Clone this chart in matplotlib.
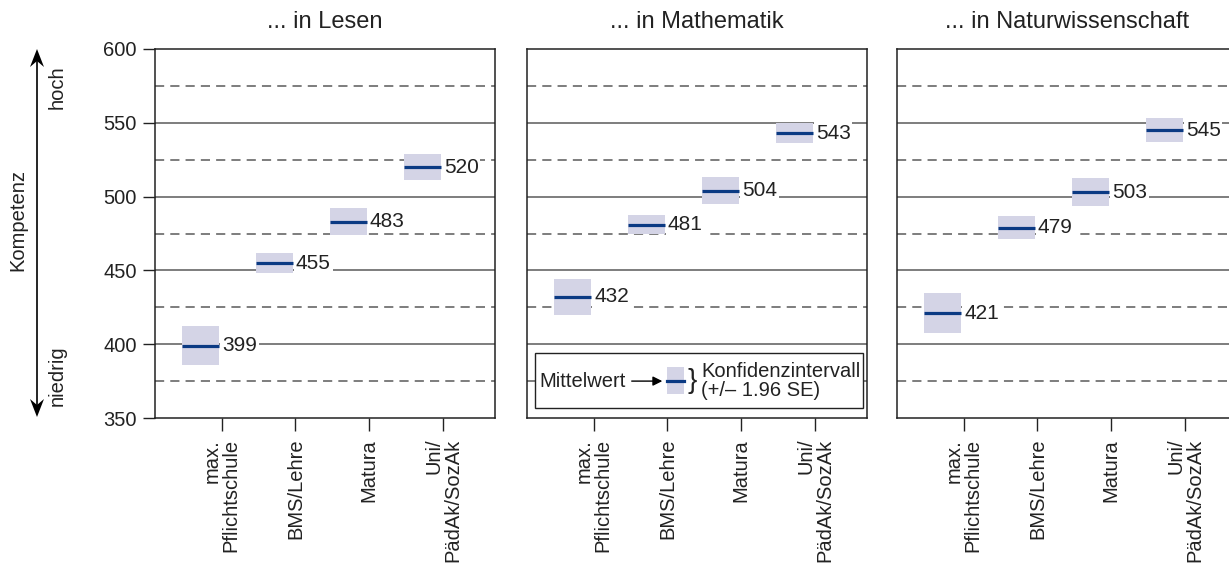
import matplotlib.pyplot as plt
from matplotlib.patches import Rectangle

plt.rcParams['font.family'] = ['Liberation Sans', 'DejaVu Sans']

categories = ["max.\nPflichtschule", "BMS/Lehre", "Matura", "Uni/\nPädAk/SozAk"]
titles = ["... in Lesen", "... in Mathematik", "... in Naturwissenschaft"]

lesen_mean = [399, 455, 483, 520]
lesen_ci = [13, 7, 9, 9]
math_mean = [432, 481, 504, 543]
math_ci = [12.5, 6.5, 9, 7]
nawi_mean = [421, 479, 503, 545]
nawi_ci = [13.5, 8, 9.5, 8]

means = [lesen_mean, math_mean, nawi_mean]
cis = [lesen_ci, math_ci, nawi_ci]

BOX = '#d4d4e6'
MEAN = '#0b3a83'
GRID = '#5a5a5a'
TXT = '#222222'
FS = 14.5

W, H = 1229, 564
fig = plt.figure(figsize=(W / 100, H / 100), dpi=100)

lefts = [155, 527, 897]
ax_w, ax_top, ax_bot = 340, 49, 418
box_w = 0.5
xs = list(range(len(categories)))

axes = []
for i, left in enumerate(lefts):
    ax = fig.add_axes([left / W, 1 - ax_bot / H, ax_w / W, (ax_bot - ax_top) / H])
    axes.append(ax)
    ax.set_xlim(-0.62, 3.98)
    ax.set_ylim(350, 600)

    for y in [400, 450, 500, 550]:
        ax.axhline(y, color=GRID, lw=1.1, zorder=0)
    for y in [375, 425, 475, 525, 575]:
        ax.axhline(y, color=GRID, lw=1.1, ls=(0, (6, 4)), zorder=0)

    m, c = means[i], cis[i]
    for x, mv, cv in zip(xs, m, c):
        ax.bar(x, 2 * cv, bottom=mv - cv, width=box_w, color=BOX, zorder=2)
        ax.hlines(mv, x - box_w / 2, x + box_w / 2, color=MEAN, lw=2.3, zorder=3)
        ax.annotate(str(mv), (x + box_w / 2, mv), xytext=(2, 0),
                    textcoords='offset points', ha='left', va='center',
                    fontsize=15, color=TXT, zorder=4,
                    bbox=dict(fc='white', ec='none', pad=1.2))

    ax.set_xticks([x + 0.28 for x in xs])
    ax.set_xticklabels(categories, rotation=90, ha='center', va='top',
                       multialignment='right', fontsize=FS, color=TXT,
                       linespacing=1.0)
    ax.tick_params(axis='x', length=9, width=1.0, pad=6, color=TXT)
    if i == 0:
        ax.set_yticks(range(350, 601, 50))
        ax.tick_params(axis='y', length=9, width=1.0, pad=4, labelsize=FS,
                       color=TXT, labelcolor=TXT)
    else:
        ax.set_yticks([])
    for s in ax.spines.values():
        s.set_color(TXT)
        s.set_linewidth(1.1)
    ax.set_title(titles[i], fontsize=17, pad=15, color=TXT)

# explanation box in the maths panel
ax = axes[1]
ax.add_patch(Rectangle((0.024, 0.027), 0.964, 0.149, transform=ax.transAxes,
                       fc='white', ec=TXT, lw=1.0, zorder=5))
ax.text(0.035, 0.10, "Mittelwert", transform=ax.transAxes, ha='left',
        va='center', fontsize=FS, color=TXT, zorder=6)
ax.annotate("", xy=(0.398, 0.10), xytext=(0.308, 0.10),
            xycoords='axes fraction', textcoords='axes fraction', zorder=6,
            arrowprops=dict(arrowstyle='-|>', color='black', lw=1.0,
                            mutation_scale=14, shrinkA=0, shrinkB=0))
ax.add_patch(Rectangle((0.411, 0.065), 0.050, 0.072, transform=ax.transAxes,
                       fc=BOX, ec='none', zorder=6))
ax.plot([0.411, 0.461], [0.101, 0.101], transform=ax.transAxes, color=MEAN,
        lw=2.3, zorder=7)
ax.text(0.471, 0.10, "}", transform=ax.transAxes, ha='left', va='center',
        fontsize=20, color=TXT, zorder=6)
ax.text(0.512, 0.10, "Konfidenzintervall\n(+/– 1.96 SE)", transform=ax.transAxes,
        ha='left', va='center', fontsize=FS, linespacing=1.0, color=TXT,
        zorder=6)

# competence scale on the left
fig.text(17.5 / W, 1 - 220 / H, "Kompetenz", rotation=90, ha='center',
         va='center', fontsize=FS, color=TXT)
fig.text(57.5 / W, 1 - 87 / H, "hoch", rotation=90, ha='center', va='center',
         fontsize=FS, color=TXT)
fig.text(57.5 / W, 1 - 376 / H, "niedrig", rotation=90, ha='center',
         va='center', fontsize=FS, color=TXT)
fig.add_artist(plt.Line2D([37 / W, 37 / W], [1 - 60 / H, 1 - 405 / H],
                          color='black', lw=1.2))
fig.patches.append(plt.Polygon([(37 / W, 1 - 49 / H), (30 / W, 1 - 67 / H),
                                (37 / W, 1 - 61 / H), (44 / W, 1 - 67 / H)],
                               closed=True, fc='black', ec='none',
                               transform=fig.transFigure))
fig.patches.append(plt.Polygon([(37 / W, 1 - 417 / H), (30 / W, 1 - 399 / H),
                                (37 / W, 1 - 405 / H), (44 / W, 1 - 399 / H)],
                               closed=True, fc='black', ec='none',
                               transform=fig.transFigure))

fig.savefig('out.png', dpi=100)
